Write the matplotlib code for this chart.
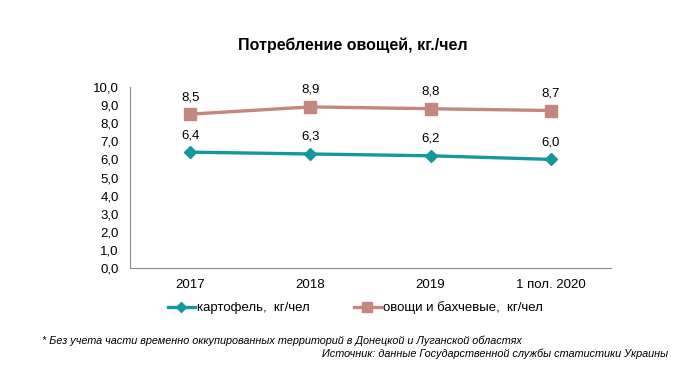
import matplotlib
matplotlib.use("Agg")
import matplotlib.pyplot as plt
from matplotlib.lines import Line2D

# ── Data ──────────────────────────────────────────────────────────────────────
categories = ["2017", "2018", "2019", "1 пол. 2020"]
potato     = [6.4, 6.3, 6.2, 6.0]
vegetables = [8.5, 8.9, 8.8, 8.7]
y_ticks    = [0, 1, 2, 3, 4, 5, 6, 7, 8, 9, 10]

POTATO_COLOR = "#14989B"
VEG_COLOR    = "#C4877F"
POTATO_LABEL = "картофель,  кг/чел"
VEG_LABEL    = "овощи и бахчевые,  кг/чел"

plt.rcParams["font.family"] = ["Liberation Sans", "DejaVu Sans"]

fig = plt.figure(figsize=(6.94, 3.70), dpi=100)
ax = fig.add_axes([130 / 694, 1 - 268 / 370, 481 / 694, 181 / 370])

x = list(range(len(categories)))
ax.plot(x, potato, color=POTATO_COLOR, linewidth=2.4, marker="D", markersize=6)
ax.plot(x, vegetables, color=VEG_COLOR, linewidth=2.4, marker="s", markersize=8.5)

for ys in (potato, vegetables):
    for xi, yi in zip(x, ys):
        ax.annotate(f"{yi:.1f}".replace(".", ","), (xi, yi), xytext=(0, 8),
                    textcoords="offset points", ha="center", va="bottom", fontsize=9.5)

ax.set_xlim(-0.5, len(categories) - 0.5)
ax.set_ylim(0, 10)
ax.set_yticks(y_ticks)
ax.set_yticklabels([f"{v:.1f}".replace(".", ",") for v in y_ticks], fontsize=9.5)
ax.set_xticks(x)
ax.set_xticklabels(categories, fontsize=9.5)
ax.tick_params(axis="both", length=0, pad=8)

for side in ["top", "right"]:
    ax.spines[side].set_visible(False)
ax.spines["left"].set_color("#8C8C8C")
ax.spines["bottom"].set_color("#8C8C8C")

fig.text(0.508, 1 - 45 / 370, "Потребление овощей, кг./чел", ha="center", va="center",
         fontsize=11.5, fontweight="bold")

handles = [
    Line2D([], [], color=POTATO_COLOR, linewidth=2.4, marker="D", markersize=5),
    Line2D([], [], color=VEG_COLOR, linewidth=2.4, marker="s", markersize=6.5),
]
fig.legend(handles, [POTATO_LABEL, VEG_LABEL], loc="center",
           bbox_to_anchor=(0.512, 1 - 308 / 370), ncol=2, frameon=False,
           fontsize=9.5, handlelength=2.0, handletextpad=0.15, columnspacing=3.4)

foot_font = ["Liberation Sans Narrow", "Liberation Sans", "DejaVu Sans"]
fig.text(42 / 694, 1 - 341 / 370,
         "* Без учета части временно оккупированных территорий в Донецкой и Луганской областях",
         ha="left", va="center", fontsize=7.8, style="italic", family=foot_font)
fig.text(668 / 694, 1 - 354 / 370,
         "Источник: данные Государственной службы статистики Украины",
         ha="right", va="center", fontsize=7.8, style="italic", family=foot_font)

fig.savefig("out.png", dpi=100)
